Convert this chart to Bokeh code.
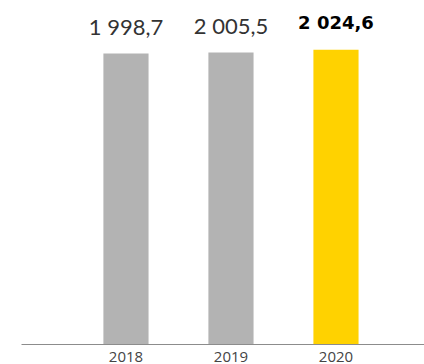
from bokeh.plotting import figure
from bokeh.models import ColumnDataSource, Range1d, FixedTicker, CDSView, IndexFilter
from bokeh.core.properties import value
from bokeh.embed import file_html
from bokeh.resources import INLINE

years = [2018, 2019, 2020]
tick_labels = ["2018", "2019", "2020"]
values = [1998.7, 2005.5, 2024.6]

def fmt(v):
    return f"{v:,.1f}".replace(",", " ").replace(".", ",")

labels = [fmt(v) for v in values]

src = ColumnDataSource(dict(x=years, top=values, label=labels))
base_view = CDSView(filter=IndexFilter([0, 1]))
hi_view = CDSView(filter=IndexFilter([2]))

p = figure(width=424, height=364, output_backend="svg", toolbar_location=None,
           y_axis_location=None, min_border_left=21, min_border_right=0,
           min_border_top=0, min_border_bottom=0)
p.x_range = Range1d(2017.005, 2020.843)
p.y_range = Range1d(0, 2363)

p.vbar(x="x", top="top", width=0.43, source=src, view=base_view,
       fill_color="#B3B3B3", line_color=None)
p.vbar(x="x", top="top", width=0.43, source=src, view=hi_view,
       fill_color="#FFD200", line_color=None)

p.text(x="x", y="top", text="label", source=src, view=base_view,
       text_align="center", text_baseline="alphabetic", y_offset=-27,
       text_font=value("Lato"), text_font_size="22px", text_color="#333333")
p.text(x="x", y="top", text="label", source=src, view=hi_view,
       text_align="center", text_baseline="alphabetic", y_offset=-27,
       text_font=value("DejaVu Sans"), text_font_size="18px", text_font_style="bold",
       text_color="#000000")

ax = p.xaxis[0]
ax.ticker = FixedTicker(ticks=years)
ax.major_label_overrides = {y: t for y, t in zip(years, tick_labels)}
ax.major_tick_line_color = None
ax.minor_tick_line_color = None
ax.axis_line_color = "#8c8c8c"
ax.axis_line_width = 1
ax.major_label_standoff = 1
ax.major_label_text_font = "Open Sans"
ax.major_label_text_font_size = "15px"
ax.major_label_text_color = "#444444"

p.xgrid.visible = False
p.ygrid.visible = False
p.outline_line_color = None
p.background_fill_color = "white"
p.border_fill_color = "white"

open("out.html", "w").write(file_html(p, INLINE))
